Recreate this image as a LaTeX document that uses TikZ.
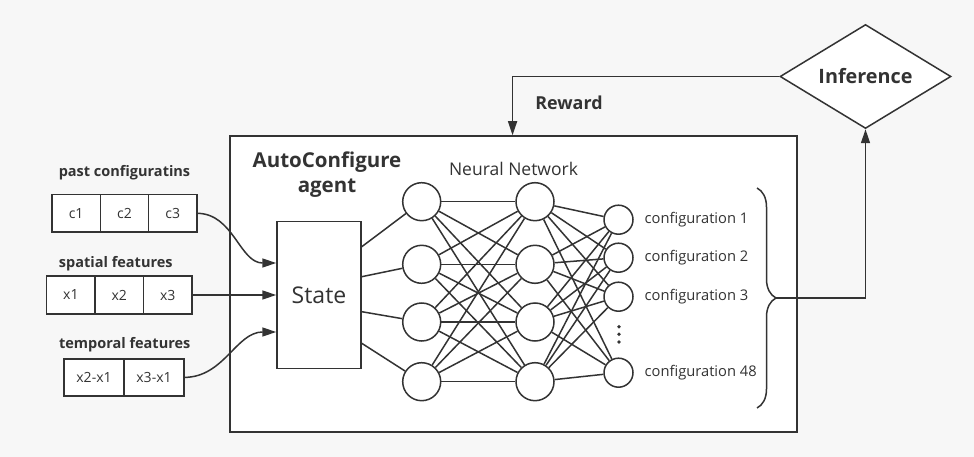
\documentclass[tikz,border=0pt]{standalone}
\usepackage{fontspec}
\setmainfont{Open Sans}
\usetikzlibrary{arrows.meta,positioning,calc,shapes.geometric,decorations.pathreplacing}
\definecolor{ink}{HTML}{333333}
\definecolor{paper}{HTML}{F7F7F7}
\tikzset{>={Triangle[length=14pt,width=9pt]}}
\tikzstyle{wire}     =[draw=ink,line width=1.5pt]
\tikzstyle{cell}     =[wire,fill=white,outer sep=0pt,inner sep=0pt,minimum height=37.6pt,
                       text=ink,font=\fontsize{14}{17}\selectfont]
\tikzstyle{head}     =[text=ink,font=\bfseries\fontsize{14.5}{17}\selectfont]
\tikzstyle{plain}    =[text=ink,inner sep=0pt,font=\fontsize{14.7}{17}\selectfont]
\tikzstyle{neuron}   =[wire,circle,fill=white,minimum size=38pt,inner sep=0pt]
\tikzstyle{outneuron}=[wire,circle,fill=white,minimum size=29pt,inner sep=0pt]

\begin{document}
\begin{tikzpicture}[x=1pt,y=-1pt]
  % canvas
  \fill[paper] (0,0) rectangle (974,457);
  \useasboundingbox (0,0) rectangle (974,457);

  % agent frame and its titles
  \node[wire,fill=white,minimum width=567pt,minimum height=296pt] (agent) at (513.5,284) {};
  \node[text=ink,align=center,font=\bfseries\fontsize{20.5}{25}\selectfont]
    (agentlbl) at (327,175) {AutoConfigure\\agent};
  \node[text=ink,font=\fontsize{17.5}{20}\selectfont] (nnlbl) at (513.5,169.3) {Neural Network};

  % inputs
  \node[head] (pastlbl) at (124.5,172.5) {past configuratins};
  \node[cell,minimum width=48.3pt,anchor=west] (c1) at (52,213.3) {c1};
  \node[cell,minimum width=48.3pt,right=0pt of c1] (c2) {c2};
  \node[cell,minimum width=48.3pt,right=0pt of c2] (c3) {c3};

  \node[head] (spatlbl) at (115.8,263.3) {spatial features};
  \node[cell,minimum width=48.4pt,anchor=west] (x1) at (46.7,295) {x1};
  \node[cell,minimum width=48.4pt,right=0pt of x1] (x2) {x2};
  \node[cell,minimum width=48.4pt,right=0pt of x2] (x3) {x3};

  \node[head] (templbl) at (124.7,344.3) {temporal features};
  \node[cell,minimum width=60pt,minimum height=36.7pt,anchor=west] (t1) at (64,377.4) {x2-x1};
  \node[cell,minimum width=60pt,minimum height=36.7pt,right=0pt of t1] (t2) {x3-x1};

  % state
  \node[wire,fill=white,text=ink,minimum width=84pt,minimum height=147pt,
        font=\fontsize{23}{26}\selectfont] (state) at (319,295) {State};

  \draw[wire,->] (c3.east) to[out=0,in=180] ($(state.west)+(0,-32)$);
  \draw[wire,->] (x3.east) -- (state.west);
  \draw[wire,->] (t2.east) to[out=0,in=180] ($(state.west)+(0,37)$);

  % network layers
  \foreach \y [count=\i] in {201.7,264.3,322,381.7}{
    \node[neuron] (a\i) at (421.7,\y) {};
    \node[neuron] (b\i) at (535,\y) {};
  }
  \foreach \y/\t [count=\i] in {219.7/1,257.7/2,296.7/3,372.7/48}{
    \node[outneuron] (o\i) at (618.5,\y) {};
    \node[plain,anchor=west] (k\i) at (644.5,\y) {configuration \t};
  }
  \foreach \y in {326.7,334.3,342}
    \fill[ink] (619,\y) circle (1.9pt);

  \foreach \dy [count=\i] in {-48.3,-18.3,16.7,48.3}
    \draw[wire] ($(state.east)+(0,\dy)$) -- (a\i);
  \foreach \i in {1,...,4}{
    \foreach \j in {1,...,4}{
      \draw[wire] (a\i) -- (b\j);
      \draw[wire] (b\i) -- (o\j);
    }
  }

  % output brace and feedback loop
  \draw[wire,decorate,decoration={brace,amplitude=19pt}] (757,188) -- (757,408);
  \coordinate (tip) at (776,298);
  \node[wire,diamond,fill=white,text=ink,aspect=1.6,inner sep=1pt,
        minimum width=171pt,minimum height=104pt,
        font=\bfseries\fontsize{19.8}{22}\selectfont] (inf) at (865.5,76.5) {Inference};
  \draw[wire,->] (tip) -| (inf.south);

  \coordinate (rw) at ($(agent.north west)+(283.3,0)$);
  \draw[wire,->] (inf.west) -| (rw);
  \node[text=ink,font=\bfseries\fontsize{17.9}{20}\selectfont] (rwlbl) at (569,102.5) {Reward};
\end{tikzpicture}
\end{document}
